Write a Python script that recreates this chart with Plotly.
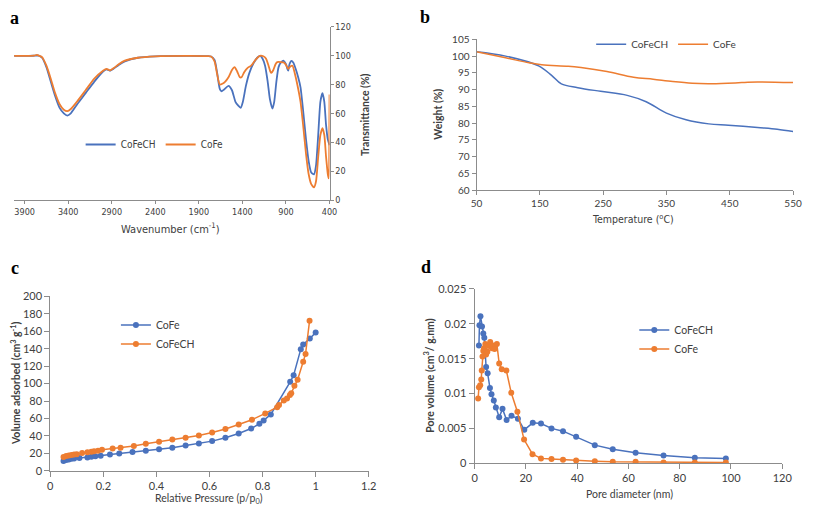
import plotly.graph_objects as go

# ---------------- Panel a: FTIR ----------------
ftir_wn_cofech = [4020, 3900, 3800, 3740, 3700, 3650, 3600, 3550, 3500, 3450, 3410, 3370, 3300, 3200, 3100, 3000,
                  2960, 2920, 2880, 2820, 2750, 2600, 2400, 2000, 1800, 1760, 1720, 1690, 1660, 1640, 1610, 1560,
                  1520, 1480, 1450, 1420, 1395, 1360, 1320, 1270, 1230, 1197, 1170, 1140, 1110, 1085, 1056, 1035,
                  1010, 985, 955, 926, 900, 885, 874, 860, 837, 815, 790, 760, 733, 700, 670, 640, 610, 578, 555,
                  530, 505, 481, 460, 440, 420, 400]
ftir_t_cofech = [99.8, 99.8, 99.9, 100.0, 98.5, 92, 82, 72, 64, 60, 58.5, 60, 66, 74, 82, 89,
                 90.5, 89.5, 90.8, 93.5, 96, 98.5, 99.5, 99.8, 99.6, 99.4, 97, 88, 77, 75.3, 76.5, 79,
                 76, 68, 65.5, 63.8, 68, 79, 88, 95, 98.5, 99.8, 98, 93, 82, 70, 63.3, 68,
                 82, 92, 95.5, 96.4, 94, 91, 89.6, 94, 96.4, 95, 91, 85, 78, 60, 42, 27, 19, 17.8, 24,
                 45, 68, 74, 68, 52, 42, 38]
ftir_wn_cofe = [4020, 3900, 3790, 3760, 3730, 3700, 3650, 3600, 3550, 3500, 3450, 3410, 3370, 3300, 3200, 3100,
                3000, 2960, 2920, 2880, 2820, 2750, 2600, 2400, 2000, 1800, 1760, 1720, 1690, 1660, 1630, 1600,
                1560, 1520, 1490, 1460, 1430, 1410, 1380, 1340, 1300, 1250, 1200, 1160, 1130, 1100, 1080, 1067,
                1045, 1020, 1000, 960, 920, 895, 874, 850, 826, 800, 770, 733, 700, 670, 640, 610, 578, 555,
                530, 505, 481, 460, 440, 420, 410, 405, 402, 400]
ftir_t_cofe = [99.8, 99.8, 99.9, 100.5, 99.8, 99, 93, 84, 74, 66.5, 62.5, 61.5, 63, 68, 76, 84,
               89.5, 90.8, 89.8, 91.2, 94, 96.5, 98.5, 99.5, 99.8, 99.6, 99.4, 96, 87, 80, 80.5, 81.8,
               85, 90, 92, 89, 85, 85, 88.5, 91.5, 93, 97, 99.8, 99.5, 98, 93, 89, 88,
               90, 94, 95.5, 95.5, 95, 93, 90.8, 92.5, 93, 88, 80, 68, 50, 32, 18, 11, 8.8, 13,
               30, 45, 49.7, 45, 30, 18, 15, 20, 50, 73]
ftir_xticks = [3900, 3400, 2900, 2400, 1900, 1400, 900, 400]
ftir_yticks = [0, 20, 40, 60, 80, 100, 120]

# ---------------- Panel b: TGA ----------------
tga_temp_cofech = [50, 96, 148, 169, 184, 210, 246, 288, 318, 350, 381, 417, 448, 494, 525, 550]
tga_w_cofech = [101.3, 100.0, 97.1, 94.2, 91.7, 90.6, 89.5, 88.3, 86.4, 83.0, 81.0, 79.8, 79.4, 78.7, 78.2, 77.5]
tga_temp_cofe = [50, 96, 133, 153, 195, 215, 256, 298, 329, 360, 391, 422, 469, 494, 550]
tga_w_cofe = [101.3, 99.5, 98.0, 97.4, 97.0, 96.6, 95.4, 93.7, 93.1, 92.4, 91.9, 91.8, 92.1, 92.3, 92.1]
tga_xticks = [50, 150, 250, 350, 450, 550]
tga_yticks = [60, 65, 70, 75, 80, 85, 90, 95, 100, 105]

# ---------------- Panel c: N2 isotherm ----------------
bet_p_cofe = [0.05, 0.06, 0.07, 0.08, 0.09, 0.11, 0.14, 0.155, 0.17, 0.19, 0.225, 0.26, 0.31, 0.36, 0.41,
              0.46, 0.51, 0.56, 0.61, 0.66, 0.71, 0.757, 0.788, 0.804, 0.831, 0.904, 0.917, 0.944, 0.953,
              0.978, 1.0]
bet_v_cofe = [11.1, 12.2, 13.0, 13.8, 14.2, 14.6, 15.3, 16.0, 16.7, 17.2, 18.7, 19.8, 21.5, 23.0, 24.8,
              26.5, 29.0, 31.3, 34.0, 37.9, 42.8, 48.5, 53.8, 57.8, 64.6, 102.0, 109.6, 139.5, 145.0,
              151.7, 158.5]
bet_p_cofech = [0.05, 0.06, 0.07, 0.08, 0.09, 0.10, 0.12, 0.14, 0.155, 0.165, 0.18, 0.195, 0.235, 0.265,
                0.315, 0.36, 0.41, 0.46, 0.51, 0.56, 0.61, 0.66, 0.71, 0.76, 0.81, 0.855, 0.862, 0.88,
                0.892, 0.903, 0.908, 0.92, 0.932, 0.953, 0.962, 0.977]
bet_v_cofech = [15.8, 16.9, 17.6, 18.2, 18.6, 19.0, 20.3, 21.3, 21.8, 22.3, 23.0, 24.0, 25.5, 26.5,
                28.5, 31.0, 33.3, 35.8, 38.0, 40.5, 44.0, 48.0, 53.0, 58.5, 65.8, 73.0, 75.5, 80.5,
                83.0, 87.0, 89.0, 97.5, 104.5, 125.0, 134.0, 172.0]
bet_xticks = [0, 0.2, 0.4, 0.6, 0.8, 1.0, 1.2]
bet_xlabels = ["0", "0.2", "0.4", "0.6", "0.8", "1", "1.2"]
bet_yticks = [0, 20, 40, 60, 80, 100, 120, 140, 160, 180, 200]

# ---------------- Panel d: pore size distribution ----------------
psd_d_cofech = [1.7, 1.9, 2.3, 2.9, 3.4, 3.8, 4.5, 5.1, 6.0, 6.6, 7.5, 8.3, 9.6, 10.9, 12.5, 14.4, 16.9,
                19.4, 22.7, 25.9, 30.0, 34.5, 39.6, 46.9, 53.9, 62.8, 73.7, 85.9, 98.0]
psd_v_cofech = [0.0169, 0.0198, 0.0211, 0.0196, 0.0186, 0.0180, 0.0138, 0.0129, 0.0108, 0.0099, 0.0090,
                0.0080, 0.0066, 0.0078, 0.0062, 0.0068, 0.0064, 0.0048, 0.0058, 0.0057, 0.0050, 0.0046,
                0.0038, 0.0026, 0.0020, 0.0015, 0.0011, 0.0008, 0.0007]
psd_d_cofe = [1.4, 1.7, 2.2, 2.6, 2.8, 3.1, 3.4, 3.7, 4.2, 4.5, 5.0, 5.5, 6.1, 6.8, 7.3, 7.8, 8.7, 9.6,
              10.6, 12.4, 14.3, 16.7, 19.3, 22.6, 25.9, 30.0, 34.5, 39.6, 46.9, 53.9, 62.8, 73.7, 85.9, 98.0]
psd_v_cofe = [0.0093, 0.0109, 0.0112, 0.0120, 0.0133, 0.0153, 0.0161, 0.0165, 0.0171, 0.0156, 0.0160,
              0.0169, 0.0174, 0.0165, 0.0169, 0.0164, 0.0171, 0.0143, 0.0135, 0.0133, 0.0101, 0.0074,
              0.0034, 0.0013, 0.0007, 0.0006, 0.0005, 0.0004, 0.0003, 0.0002, 0.0002, 0.0001, 0.0001, 0.0001]
psd_xticks = [0, 20, 40, 60, 80, 100, 120]
psd_yticks = [0, 0.005, 0.01, 0.015, 0.02, 0.025]
psd_ylabels = ["0", "0.005", "0.01", "0.015", "0.02", "0.025"]

BLUE = "#4A72BD"
ORANGE = "#ED7D31"
TICKC = "#404040"
AXC = "#8C8C8C"
# figure size chosen so that the page (with the browser's default 8px body margin) is 813x513
OX, OY = 8, 8
FW, FH = 797, 497
FONT = "Lato, Carlito, Calibri, sans-serif"
NARROW = "Liberation Sans Narrow, Arial Narrow, DejaVu Sans Condensed, sans-serif"


def px(x):
    return min(max((x - OX) / FW, 0.0), 1.0)


def py(y):
    return min(max(1 - (y - OY) / FH, 0.0), 1.0)


fig = go.Figure()

fig.add_trace(go.Scatter(x=ftir_wn_cofech, y=ftir_t_cofech, name="CoFeCH", mode="lines",
                         line=dict(color=BLUE, width=1.8, shape="spline", smoothing=0.6),
                         xaxis="x", yaxis="y", legend="legend"))
fig.add_trace(go.Scatter(x=ftir_wn_cofe, y=ftir_t_cofe, name="CoFe", mode="lines",
                         line=dict(color=ORANGE, width=1.8, shape="spline", smoothing=0.6),
                         xaxis="x", yaxis="y", legend="legend"))

fig.add_trace(go.Scatter(x=tga_temp_cofech, y=tga_w_cofech, name="CoFeCH", mode="lines",
                         line=dict(color=BLUE, width=1.5, shape="spline", smoothing=1.0),
                         xaxis="x2", yaxis="y2", legend="legend2"))
fig.add_trace(go.Scatter(x=tga_temp_cofe, y=tga_w_cofe, name="CoFe", mode="lines",
                         line=dict(color=ORANGE, width=1.5, shape="spline", smoothing=1.0),
                         xaxis="x2", yaxis="y2", legend="legend2"))

fig.add_trace(go.Scatter(x=bet_p_cofe, y=bet_v_cofe, name="CoFe", mode="lines+markers",
                         line=dict(color=BLUE, width=1.5), marker=dict(color=BLUE, size=6),
                         xaxis="x3", yaxis="y3", legend="legend3"))
fig.add_trace(go.Scatter(x=bet_p_cofech, y=bet_v_cofech, name="CoFeCH", mode="lines+markers",
                         line=dict(color=ORANGE, width=1.5), marker=dict(color=ORANGE, size=6),
                         xaxis="x3", yaxis="y3", legend="legend3"))

fig.add_trace(go.Scatter(x=psd_d_cofech, y=psd_v_cofech, name="CoFeCH", mode="lines+markers",
                         line=dict(color=BLUE, width=1.5), marker=dict(color=BLUE, size=6),
                         xaxis="x4", yaxis="y4", legend="legend4"))
fig.add_trace(go.Scatter(x=psd_d_cofe, y=psd_v_cofe, name="CoFe", mode="lines+markers",
                         line=dict(color=ORANGE, width=1.5), marker=dict(color=ORANGE, size=6),
                         xaxis="x4", yaxis="y4", legend="legend4"))

common = dict(showgrid=False, zeroline=False, showline=True, linecolor=AXC, linewidth=1,
              ticks="outside", tickcolor=AXC, ticklen=4, tickfont=dict(color=TICKC, size=10, family=FONT))
big = dict(ticklen=5, tickfont=dict(color=TICKC, size=11, family=FONT))

layout = dict(
    width=FW, height=FH, margin=dict(l=0, r=0, t=0, b=0),
    paper_bgcolor="white", plot_bgcolor="white", showlegend=True,
    xaxis=dict(common, domain=[px(4), px(330)], range=[4022, 400], tickvals=ftir_xticks,
               anchor="y", ticklen=3, tickfont=dict(color=TICKC, size=9, family=NARROW)),
    yaxis=dict(common, domain=[py(198), py(20)], range=[0, 120], tickvals=ftir_yticks,
               anchor="x", side="right", ticklen=3, tickfont=dict(color=TICKC, size=9, family=NARROW)),
    xaxis2=dict(common, domain=[px(480), px(803)], range=[50, 550], tickvals=tga_xticks, anchor="y2"),
    yaxis2=dict(common, domain=[py(188), py(33)], range=[60, 105], tickvals=tga_yticks, anchor="x2"),
    xaxis3=dict(common, **big, domain=[px(45), px(370)], range=[0, 1.2], tickvals=bet_xticks,
                ticktext=bet_xlabels, anchor="y3"),
    yaxis3=dict(common, **big, domain=[py(476), py(297)], range=[0, 200], tickvals=bet_yticks, anchor="x3"),
    xaxis4=dict(common, **big, domain=[px(478), px(792)], range=[0, 120], tickvals=psd_xticks, anchor="y4"),
    yaxis4=dict(common, **big, domain=[py(468.3), py(289.3)], range=[0, 0.025], tickvals=psd_yticks,
                ticktext=psd_ylabels, anchor="x4"),
    legend=dict(orientation="h", x=px(76), y=py(141), yanchor="middle", xanchor="left",
                font=dict(size=10, color=TICKC, family=NARROW), bgcolor="rgba(0,0,0,0)"),
    legend2=dict(orientation="h", x=px(597), y=py(38), yanchor="middle", xanchor="left",
                 font=dict(size=10, color=TICKC, family=FONT), bgcolor="rgba(0,0,0,0)"),
    legend3=dict(orientation="v", x=px(112), y=py(311.5), yanchor="top", xanchor="left",
                 font=dict(size=10.5, color=TICKC, family=FONT), bgcolor="rgba(0,0,0,0)"),
    legend4=dict(orientation="v", x=px(641), y=py(316.5), yanchor="top", xanchor="left",
                 font=dict(size=10.5, color=TICKC, family=FONT), bgcolor="rgba(0,0,0,0)"),
)
fig.update_layout(**layout)


def ann(text, x, y, size=10, bold=False, angle=0, family=FONT, color=TICKC):
    fig.add_annotation(text=f"<b>{text}</b>" if bold else text, x=px(x), y=py(y), xref="paper",
                       yref="paper", showarrow=False, textangle=angle, xanchor="center",
                       yanchor="middle", font=dict(size=size, color=color, family=family))


SERIF = "Liberation Serif, Times New Roman, serif"
ann("a", 9, 11, size=18, bold=True, family=SERIF, color="black")
ann("b", 427, 10, size=18, bold=True, family=SERIF, color="black")
ann("c", 9, 268, size=18, bold=True, family=SERIF, color="black")
ann("d", 428, 267, size=18, bold=True, family=SERIF, color="black")

ann("Wavenumber (cm<sup>-1</sup>)", 168, 227, size=11, family=NARROW)
ann("Transmittance (%)", 367, 110, size=10.5, bold=True, angle=-90)
ann("Temperature (<sup>o</sup>C)", 640, 217, size=10.5, family=NARROW)
ann("Weight (%)", 441, 110, size=10.5, bold=True, angle=-90)
ann("Volume adsorbed (cm<sup>3</sup> g<sup>-1</sup>)", 9, 386, size=10.5, bold=True, angle=-90)
ann("Relative Pressure (p/p<sub>0</sub>)", 207, 506, size=10.5)
ann("Pore volume (cm<sup>3</sup>/ g.nm)", 431, 378, size=10.5, bold=True, angle=-90)
ann("Pore diameter (nm)", 636, 500, size=10.5)

fig.write_html("out.html", config={"displayModeBar": False})
